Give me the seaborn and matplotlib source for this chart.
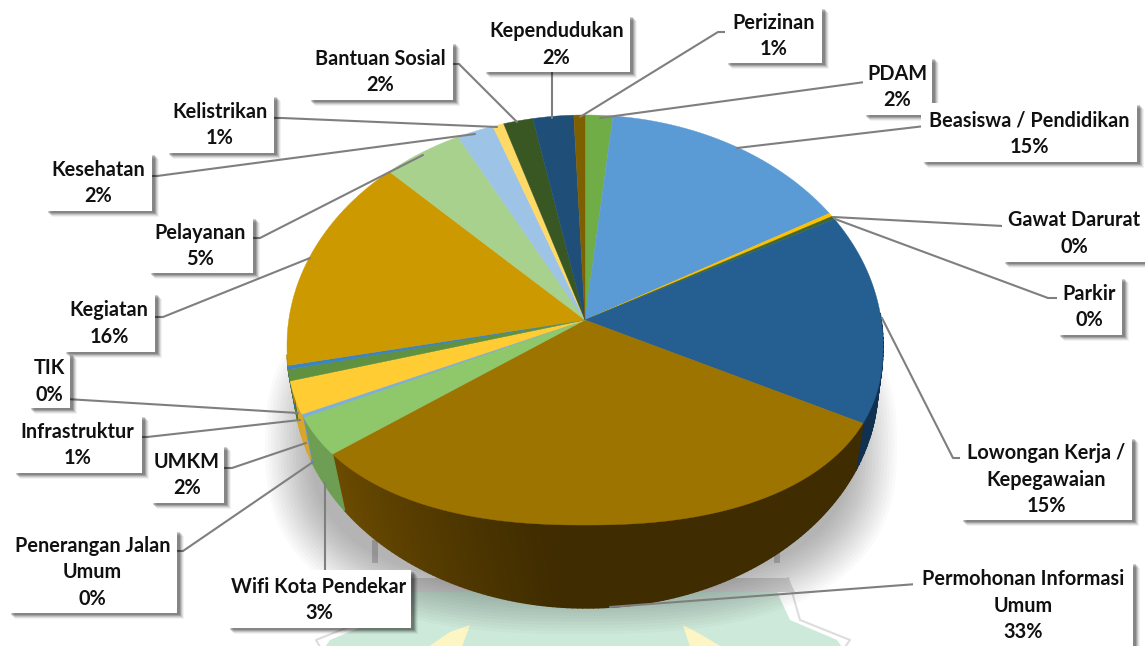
#!/usr/bin/env python3
"""3D style pie of complaint categories, labels sitting in shadowed callout boxes."""

import numpy as np
import matplotlib
matplotlib.use("Agg")
import matplotlib.pyplot as plt
import seaborn as sns
from matplotlib.patches import Rectangle

# clockwise from the top of the pie
slice_names = ["PDAM", "Beasiswa / Pendidikan", "Gawat Darurat", "Parkir",
               "Lowongan Kerja /\nKepegawaian", "Permohonan Informasi\nUmum",
               "Wifi Kota Pendekar", "Penerangan Jalan\nUmum", "UMKM",
               "Infrastruktur", "TIK", "Kegiatan", "Pelayanan", "Kesehatan",
               "Kelistrikan", "Bantuan Sosial", "Kependudukan", "Perizinan"]
slice_shares = [1.5, 13.8, 0.25, 0.22, 15.5, 34.2, 3.8, 0.3, 2.9,
                0.9, 0.3, 14.9, 4.4, 2.0, 0.6, 1.6, 2.2, 0.6]
slice_percents = ["2%", "15%", "0%", "0%", "15%", "33%", "3%", "0%", "2%",
                  "1%", "0%", "16%", "5%", "2%", "1%", "2%", "2%", "1%"]
top_colors = ["#70ad47", "#5b9bd5", "#ffc000", "#43682b", "#255e91", "#9e7400",
              "#8fc76b", "#7cafdd", "#ffcd33", "#5f9140", "#3b84c4", "#cc9a00",
              "#a9d18e", "#9dc3e6", "#ffd966", "#385723", "#1f4e79", "#7f6000"]
side_colors = ["#4f7a32", "#3f6d96", "#b38600", "#2f4a1e", "#12304f", "#3f2c00",
               "#6d9e54", "#6a94bd", "#d9a52a", "#4f7a35", "#2f6ca3", "#a87f00",
               "#76925f", "#6e88a1", "#b39847", "#273d18", "#163755", "#594300"]

# callout boxes in image pixels: left, top, right, bottom
label_boxes = [(863, 57, 932, 115), (921, 103, 1137, 162), (1002, 203, 1146, 262),
               (1057, 277, 1122, 335), (960, 437, 1132, 520), (913, 562, 1133, 647),
               (227, 570, 411, 628), (8, 530, 177, 613), (150, 445, 224, 503),
               (13, 415, 142, 473), (28, 353, 70, 408), (63, 293, 155, 352),
               (148, 217, 253, 273), (45, 153, 152, 211), (166, 95, 274, 153),
               (308, 42, 453, 100), (483, 15, 630, 72), (725, 7, 822, 63)]
# leader line points, box end first
leaders = [[(865, 82), (600, 118)], [(925, 126), (737, 148)], [(1003, 226), (833, 217)],
           [(1058, 298), (1048, 298), (835, 219)], [(963, 458), (953, 458), (882, 318)],
           [(917, 584), (610, 607)], [(325, 572), (325, 483)],
           [(175, 551), (183, 551), (313, 462)], [(221, 468), (232, 468), (306, 443)],
           [(137, 437), (147, 437), (300, 420)], [(66, 399), (298, 413)],
           [(153, 317), (163, 317), (310, 258)], [(249, 238), (260, 238), (423, 155)],
           [(148, 176), (157, 176), (475, 134)], [(270, 118), (282, 118), (497, 127)],
           [(450, 64), (459, 64), (517, 122)], [(552, 70), (552, 118)],
           [(725, 32), (718, 32), (580, 117)]]


def rim(u):
    """Outer edge of the pie top, slightly egg shaped like the office 3D pie."""
    u = np.radians(u)
    s, c = np.sin(u), np.cos(u)
    n = np.where(c >= 0, 2.0, 2.3)
    x = 585 + 298 * np.sign(s) * np.abs(s) ** (2 / n)
    y = np.where(c >= 0, 345 - 230 * c, 345 + 180 * np.abs(c) ** (2 / 2.3))
    return x, y


def foot(u):
    """Lower edge of the side wall."""
    u = np.radians(u)
    return 586 + 292 * np.sin(u), 385 - 223 * np.cos(u)


def draw_watermark(ax):
    ax.fill([378, 788, 795, 372], [578, 578, 592, 592], color="#dcdcdc", lw=0, zorder=1)
    for x in (375, 777):
        ax.fill([x - 3, x + 3, x + 3, x - 3], [540, 540, 563, 563], color="#d4d4d4", lw=0, zorder=1)
    ax.fill([392, 777, 790, 837, 842, 325, 330, 378], [592, 592, 620, 640, 647, 647, 640, 620],
            color="#cde9da", lw=0, zorder=1)
    ax.plot([788, 800, 850, 845], [578, 620, 640, 647], color="#dddddd", lw=1.5, zorder=1)
    ax.plot([378, 366, 316, 320], [578, 620, 640, 647], color="#dddddd", lw=1.5, zorder=1)
    ax.fill([470, 462, 436, 428, 450], [625, 647, 647, 647, 632], color="#fdf6c4", lw=0, zorder=1)
    ax.fill([683, 690, 712, 722, 700], [625, 647, 647, 647, 634], color="#fdf6c4", lw=0, zorder=1)


def draw_pie_shadow(ax):
    t = np.radians(np.linspace(0, 360, 241))
    for pad in np.linspace(24, -22, 16):
        rx, ry = 292 + pad, 165 + pad
        x = 581 + rx * np.sign(np.cos(t)) * np.abs(np.cos(t)) ** (2 / 2.6)
        y = 445 + ry * np.sign(np.sin(t)) * np.abs(np.sin(t)) ** (2 / 2.6)
        ax.fill(x, y, color="black", alpha=0.02, lw=0, zorder=2)


def draw_wall(ax, edges, colors):
    for start, stop, color in zip(edges[:-1], edges[1:], colors):
        lo, hi = max(start, 82), min(stop, 268)
        if lo >= hi:
            continue
        steps = np.append(np.arange(lo, hi, 1.0), hi)
        for a, b in zip(steps[:-1], steps[1:]):
            fill = color
            if color == "#3f2c00":
                # long brown wall gets lighter towards the left
                k = np.clip((a - 185) / 50, 0, 1)
                fill = tuple((1 - k) * np.array([0x3f, 0x2c, 0x00]) / 255
                             + k * np.array([0x6b, 0x4b, 0x00]) / 255)
            xt, yt = rim(np.array([a, b]))
            xb, yb = foot(np.array([b, a]))
            ax.fill(np.r_[xt, xb], np.r_[yt, yb], color=fill, ec=fill, lw=1.0, zorder=3)


def draw_top(ax, edges, colors):
    for start, stop, color in zip(edges[:-1], edges[1:], colors):
        x, y = rim(np.linspace(start, stop, max(int(stop - start) * 2, 4)))
        ax.fill(np.r_[585, x], np.r_[320, y], color=color, ec=color, lw=0.3, zorder=4)


def draw_callouts(ax):
    for points in leaders:
        xs, ys = zip(*points)
        ax.plot(xs, ys, color="#7f7f7f", lw=1.5, solid_capstyle="round", zorder=5)
    for i, (name, pct, box) in enumerate(zip(slice_names, slice_percents, label_boxes)):
        left, top, right, bottom = box
        z = 6 + i * 0.01
        for off, alpha in [(6, 0.05), (5, 0.08), (4, 0.12), (3, 0.16), (2, 0.18)]:
            ax.add_patch(Rectangle((left + off + 1, top + off), right - left, bottom - top,
                                   fc="black", ec="none", alpha=alpha, zorder=z))
        ax.add_patch(Rectangle((left, top), right - left, bottom - top, fc="white", ec="none", zorder=z))
        ax.text((left + right) / 2, (top + bottom) / 2 + 1, f"{name}\n{pct}", ha="center", va="center",
                fontsize=14.3, fontweight="bold", color="#111111", linespacing=1.4, zorder=z)


def main():
    sns.set_theme(style="white")
    plt.rcParams["font.family"] = ["Lato", "DejaVu Sans"]

    shares = np.array(slice_shares)
    edges = np.r_[0, np.cumsum(shares / shares.sum()) * 360]
    top_palette = sns.color_palette(top_colors)

    fig = plt.figure(figsize=(11.45, 6.46), dpi=100)
    ax = fig.add_axes([0, 0, 1, 1])
    ax.set_xlim(0, 1145)
    ax.set_ylim(646, 0)
    ax.axis("off")

    draw_watermark(ax)
    draw_pie_shadow(ax)
    draw_wall(ax, edges, side_colors)
    draw_top(ax, edges, top_palette)
    draw_callouts(ax)

    fig.savefig("out.png", dpi=100, facecolor="white")
    plt.close(fig)


if __name__ == "__main__":
    main()
